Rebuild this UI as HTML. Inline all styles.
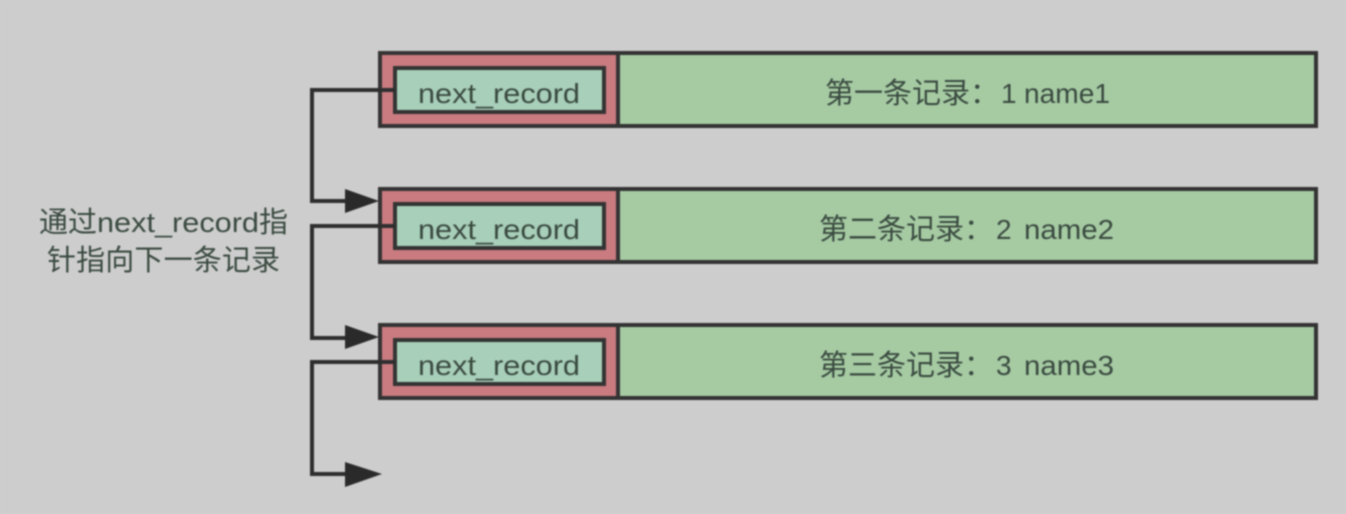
<!DOCTYPE html>
<html>
<head>
<meta charset="utf-8">
<style>
html,body{margin:0;padding:0;width:1346px;height:514px;overflow:hidden;background:#cdcdcd;}
svg{display:block;filter:blur(.8px);}
text{font-family:"Liberation Sans","Noto Sans CJK SC",sans-serif;fill:#3a4a40;}
</style>
</head>
<body>
<svg width="1346" height="514" viewBox="0 0 1346 514" xmlns="http://www.w3.org/2000/svg">
<rect width="1346" height="514" fill="#cdcdcd"/>

<g stroke="#333" stroke-width="4">
  <rect x="380" y="53" width="936" height="73" fill="#a6cba3"/>
  <rect x="380" y="53" width="238" height="73" fill="#c97b80"/>
  <rect x="395" y="68" width="209" height="44" fill="#a8cfba"/>

  <rect x="380" y="189" width="936" height="73" fill="#a6cba3"/>
  <rect x="380" y="189" width="238" height="73" fill="#c97b80"/>
  <rect x="395" y="204" width="209" height="44" fill="#a8cfba"/>

  <rect x="380" y="325" width="936" height="73" fill="#a6cba3"/>
  <rect x="380" y="325" width="238" height="73" fill="#c97b80"/>
  <rect x="395" y="340" width="209" height="44" fill="#a8cfba"/>
</g>

<g fill="none" stroke="#2e2e2e" stroke-width="4">
  <path d="M395 90H312V201H350"/>
  <path d="M395 226H312V338H350"/>
  <path d="M395 362H312V474H350"/>
</g>
<g fill="#2a2a2a">
  <polygon points="345,189 379,201 345,213"/>
  <polygon points="345,325 379,337 345,349"/>
  <polygon points="345,462 382,474 345,487"/>
</g>

<g font-size="28">
  <text x="418" y="103" textLength="162" lengthAdjust="spacingAndGlyphs">next_record</text>
  <text x="418" y="239" textLength="162" lengthAdjust="spacingAndGlyphs">next_record</text>
  <text x="418" y="375" textLength="162" lengthAdjust="spacingAndGlyphs">next_record</text>
</g>

<g font-size="29">
  <text x="825" y="103">第一条记录：</text>
  <text x="1001" y="103" font-size="28">1</text>
  <text x="1024" y="103" font-size="28" textLength="86" lengthAdjust="spacingAndGlyphs">name1</text>
  <text x="819" y="239">第二条记录：</text>
  <text x="996" y="239" font-size="28">2</text>
  <text x="1024" y="239" font-size="28" textLength="90" lengthAdjust="spacingAndGlyphs">name2</text>
  <text x="819" y="375">第三条记录：</text>
  <text x="996" y="375" font-size="28">3</text>
  <text x="1024" y="375" font-size="28" textLength="90" lengthAdjust="spacingAndGlyphs">name3</text>
</g>

<g font-size="29">
  <text x="39" y="232">通过</text>
  <text x="97" y="232" font-size="28" textLength="162" lengthAdjust="spacingAndGlyphs">next_record</text>
  <text x="259" y="232">指</text>
  <text x="47" y="270" textLength="233">针指向下一条记录</text>
</g>
</svg>
</body>
</html>
